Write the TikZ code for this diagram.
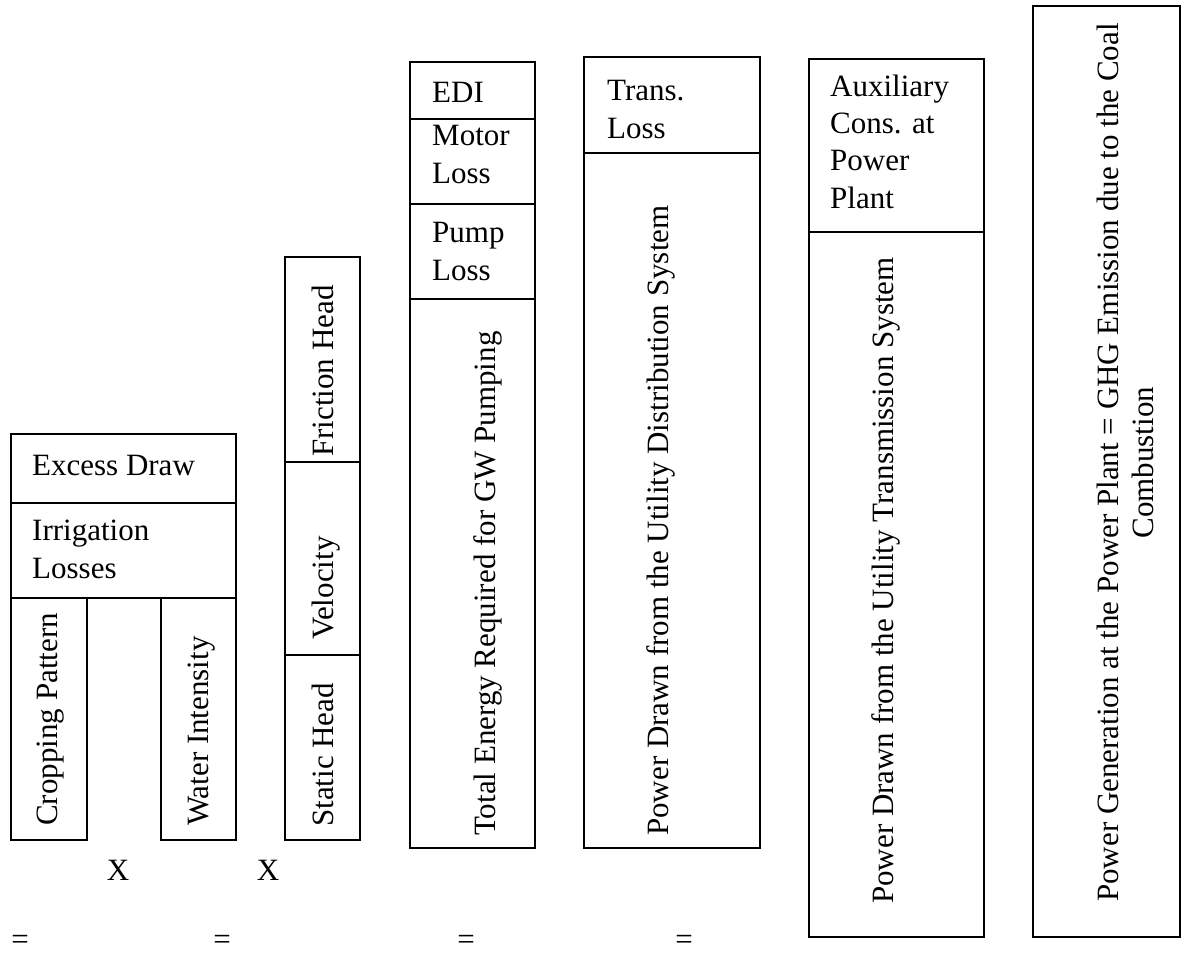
\documentclass[tikz,border=0pt]{standalone}
\usepackage{fontspec}
\setmainfont{Liberation Serif}
\begin{document}
\begin{tikzpicture}[x=1pt,y=-1pt,
  boxline/.style={draw=black, line width=1.5pt},
  lbl/.style={font=\fontsize{31}{37.3}\selectfont, inner sep=0pt, anchor=base west, align=left},
  vlbl/.style={font=\fontsize{31}{37.3}\selectfont, inner sep=0pt, anchor=base west, rotate=90},
  sym/.style={font=\fontsize{31}{37.3}\selectfont, inner sep=0pt, anchor=center},
]
\useasboundingbox[fill=white] (0,0) rectangle (1182,956);

% column 1
\draw[boxline] (11,434) rectangle (236,598);
\draw[boxline] (11,503) -- (236,503);
\draw[boxline] (11,598) rectangle (87,840);
\draw[boxline] (161,598) rectangle (236,840);
% column 2
\draw[boxline] (285,257) rectangle (360,840);
\draw[boxline] (285,462) -- (360,462);
\draw[boxline] (285,655) -- (360,655);
% column 3
\draw[boxline] (410,62) rectangle (535,848);
\draw[boxline] (410,119) -- (535,119);
\draw[boxline] (410,204) -- (535,204);
\draw[boxline] (410,299) -- (535,299);
% column 4
\draw[boxline] (584,57) rectangle (760,848);
\draw[boxline] (584,153) -- (760,153);
% column 5
\draw[boxline] (809,59) rectangle (984,937);
\draw[boxline] (809,232) -- (984,232);
% column 6
\draw[boxline] (1033,6) rectangle (1180,937);

% texts (multi-line nodes are anchored at the baseline of their last line)
\node[lbl] (excess) at (32,475) {Excess Draw};
\node[lbl] (irr) at (32,578) {Irrigation\\Losses};
\node[vlbl] (crop) at (57,826) {Cropping Pattern};
\node[vlbl] (water) at (208,826) {Water Intensity};
\node[vlbl] (fric) at (333,457) {Friction Head};
\node[vlbl] (velo) at (333,640) {Velocity};
\node[vlbl] (static) at (333,827) {Static Head};
\node[lbl] (edi) at (432,102) {EDI};
\node[lbl] (motor) at (432,183) {Motor\\Loss};
\node[lbl] (pump) at (432,280) {Pump\\Loss};
\node[vlbl] (total) at (495,836) {Total Energy Required for GW Pumping};
\node[lbl] (trans) at (607,138) {Trans.\\Loss};
\node[vlbl] (pdist) at (668,836) {Power Drawn from the Utility Distribution System};
\node[lbl] (aux) at (830,208) {Auxiliary\\Cons. at\\Power\\Plant};
\node[vlbl] (ptrans) at (893,904) {Power Drawn from the Utility Transmission System};
\node[vlbl] (pgen) at (1118,902) {Power Generation at the Power Plant = GHG Emission due to the Coal};
\node[vlbl, anchor=base] (comb) at (1153,0 |- pgen.center) {Combustion};

\node[sym] (x1) at (118,870) {X};
\node[sym] (x2) at (268,870) {X};
\node[sym] (eq1) at (20,942) {=};
\node[sym] (eq2) at (222,942) {=};
\node[sym] (eq3) at (466,942) {=};
\node[sym] (eq4) at (684,942) {=};
\end{tikzpicture}
\end{document}
